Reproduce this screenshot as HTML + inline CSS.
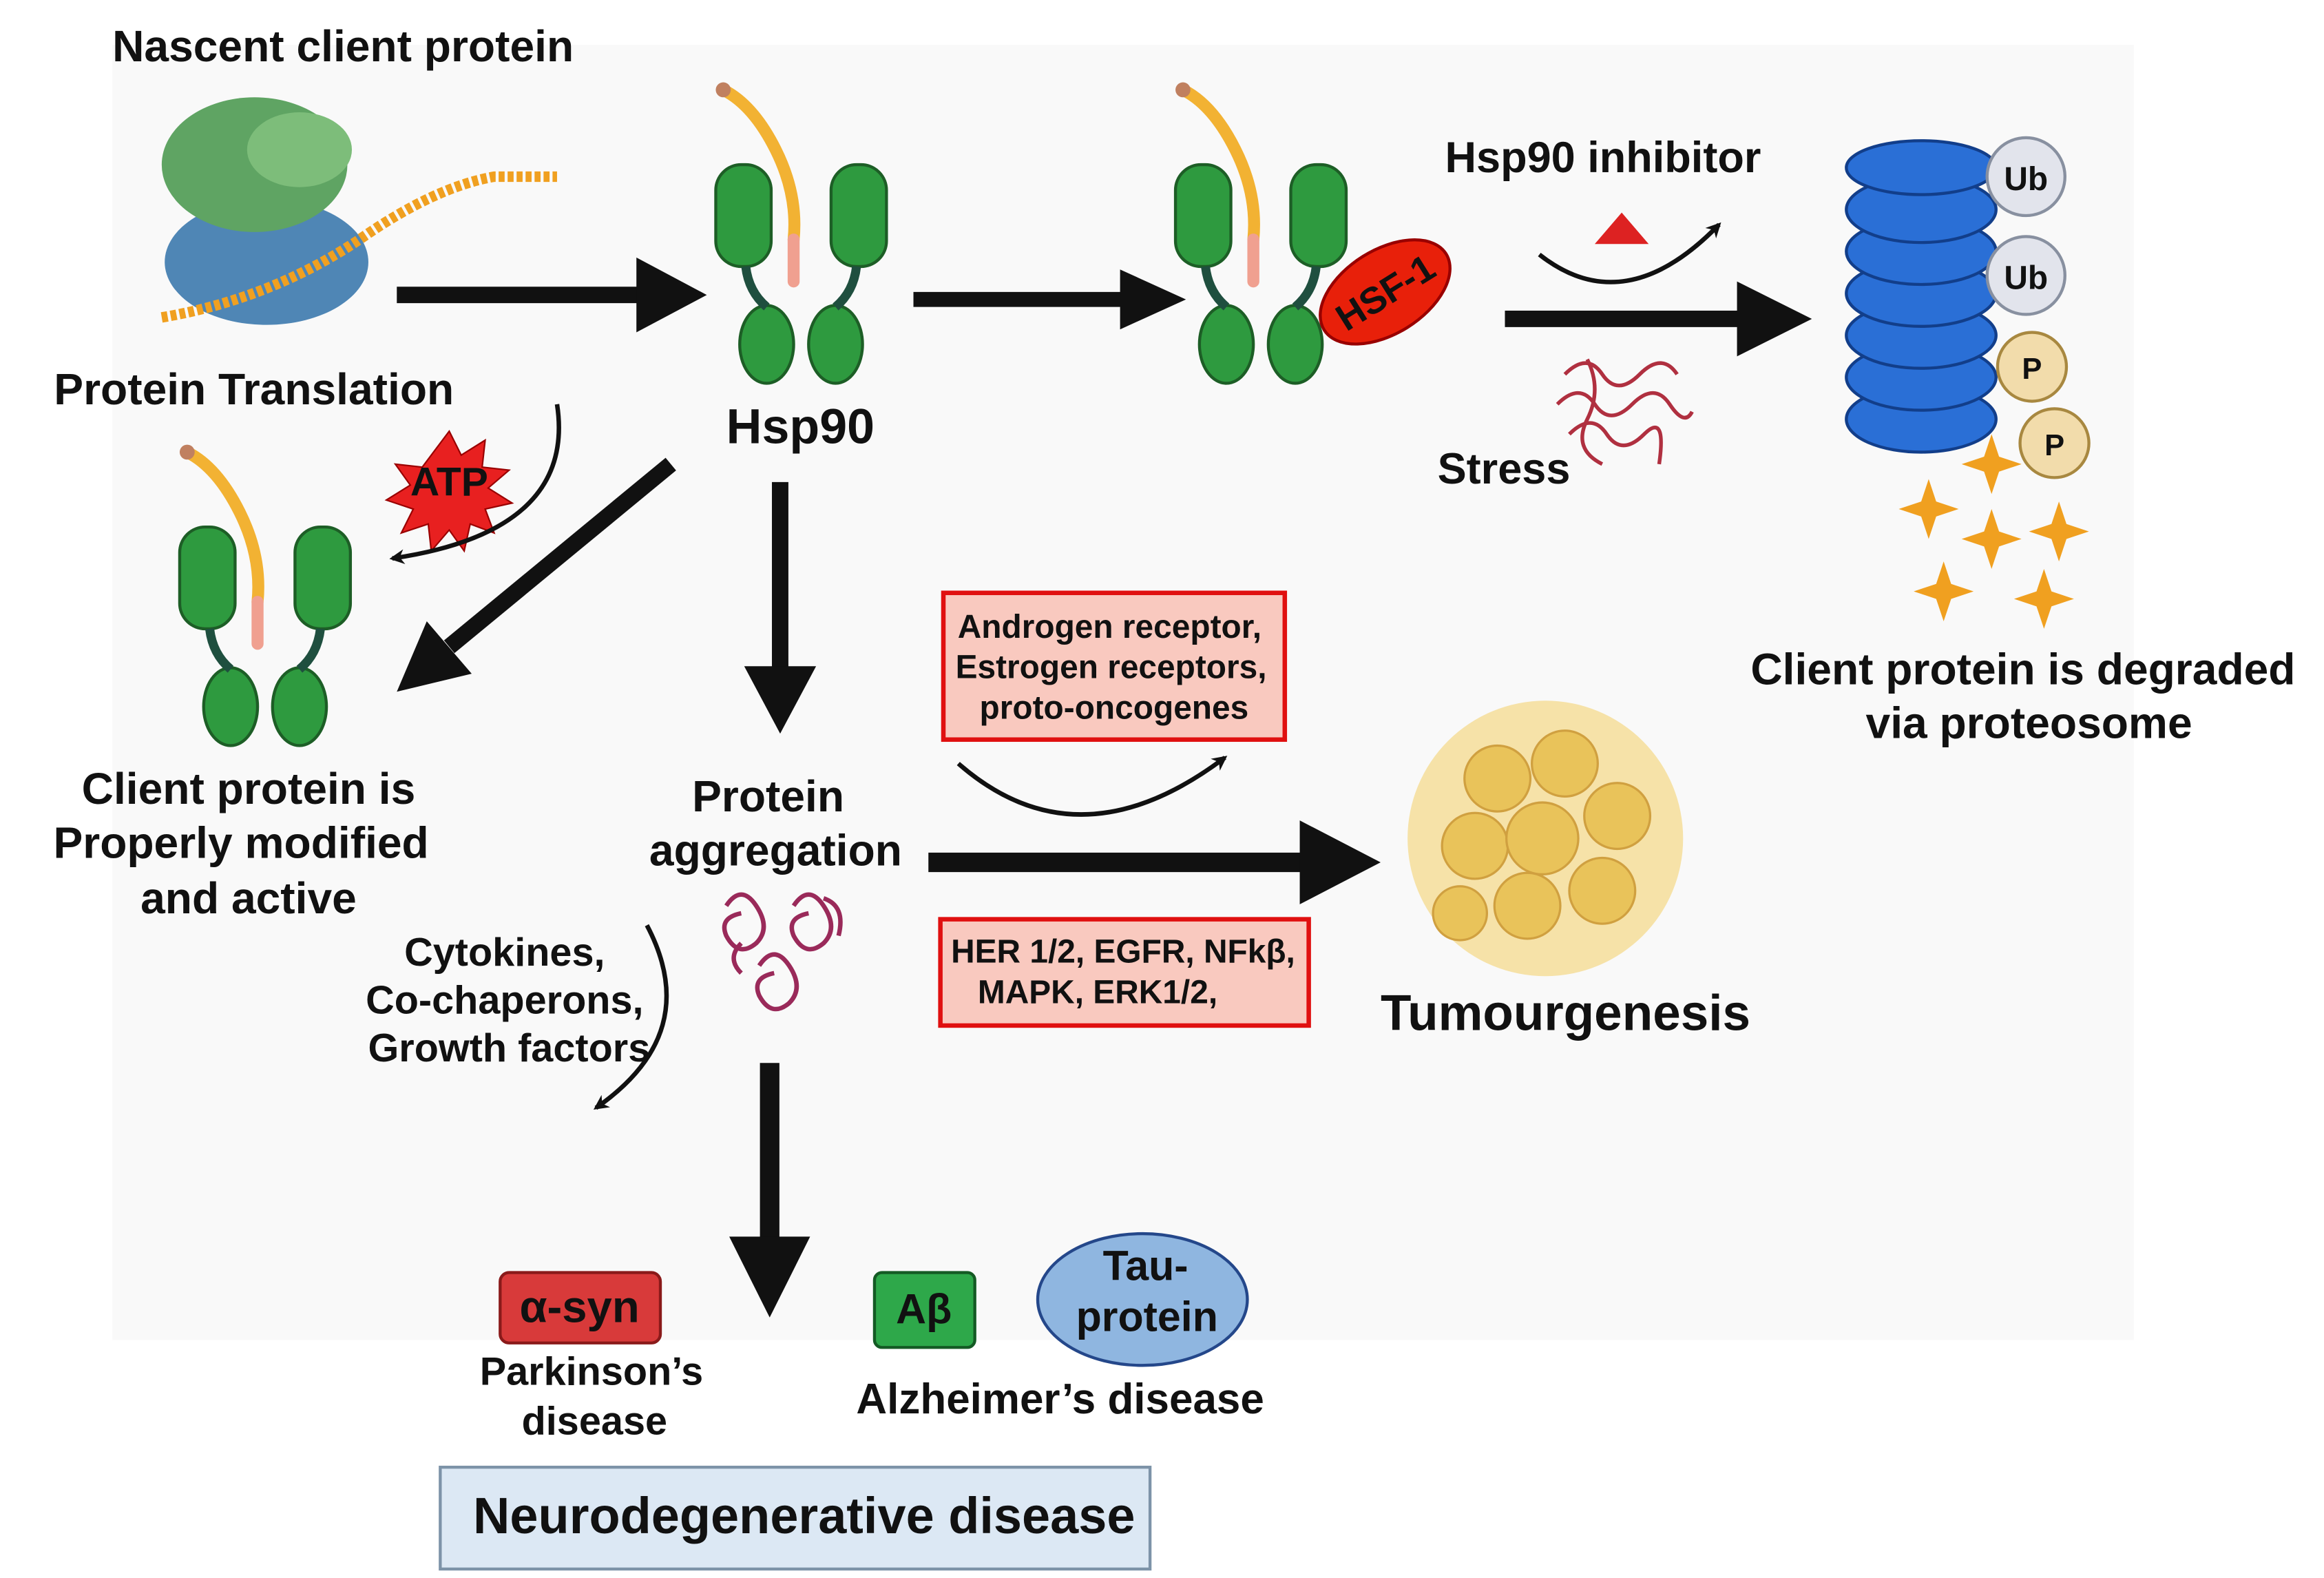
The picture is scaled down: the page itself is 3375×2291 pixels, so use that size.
<!DOCTYPE html>
<html><head><meta charset="utf-8"><style>
html,body{margin:0;padding:0;background:#fff;}
svg{display:block;}
text{font-family:"Liberation Sans",Arial,sans-serif;font-weight:bold;fill:#111;}
</style></head><body>
<svg width="3375" height="2291" viewBox="0 0 1552 1054" preserveAspectRatio="none" xmlns="http://www.w3.org/2000/svg">
<defs>
<marker id="sh" markerWidth="10" markerHeight="10" refX="8" refY="5" orient="auto" markerUnits="userSpaceOnUse"><path d="M0,0 L10,5 L0,10 L3,5 Z" fill="#111"/></marker>
<g id="dimer">
 <rect x="0" y="0" width="37" height="68" rx="17" fill="#2e9a3f" stroke="#1d5e26" stroke-width="2"/>
 <rect x="77" y="0" width="37" height="68" rx="17" fill="#2e9a3f" stroke="#1d5e26" stroke-width="2"/>
 <ellipse cx="34" cy="120" rx="18" ry="26" fill="#2e9a3f" stroke="#1d5e26" stroke-width="2"/>
 <ellipse cx="80" cy="120" rx="18" ry="26" fill="#2e9a3f" stroke="#1d5e26" stroke-width="2"/>
 <path d="M20,68 Q22,85 34,95 M94,68 Q92,85 80,95" stroke="#1f4f3f" stroke-width="6" fill="none"/>
 <path d="M5,-50 Q25,-40 40,-10 Q55,20 52,50" stroke="#f2b233" stroke-width="8" fill="none" stroke-linecap="round"/>
 <path d="M52,50 L52,78" stroke="#f0a090" stroke-width="8" stroke-linecap="round"/>
 <circle cx="5" cy="-50" r="5" fill="#c08060"/>
</g>
</defs>
<rect x="75" y="30" width="1350" height="865" fill="#f9f9f9"/>

<text x="75" y="41" font-size="29.5">Nascent client protein</text>
<ellipse cx="178" cy="175" rx="68" ry="42" fill="#4f86b5"/>
<ellipse cx="170" cy="110" rx="62" ry="45" fill="#5fa463"/>
<ellipse cx="200" cy="100" rx="35" ry="25" fill="#7dbd7a"/>
<path d="M108,212 Q180,200 240,160 Q290,125 330,118 L372,118" stroke="#f0a020" stroke-width="7" fill="none" stroke-dasharray="4 2"/>
<text x="36" y="270" font-size="29.5">Protein Translation</text>

<line x1="265" y1="197" x2="440" y2="197" stroke="#111" stroke-width="11"/>
<path d="M425,172 L472,197 L425,222 Z" fill="#111"/>

<use href="#dimer" x="478" y="110"/>
<text x="485" y="296" font-size="33">Hsp90</text>

<line x1="610" y1="200" x2="760" y2="200" stroke="#111" stroke-width="10"/>
<path d="M748,180 L792,200 L748,220 Z" fill="#111"/>

<use href="#dimer" x="785" y="110"/>
<g transform="translate(925,195) rotate(-32)"><ellipse rx="48" ry="28" fill="#e8200a" stroke="#900" stroke-width="2"/><text x="0" y="9" font-size="25" text-anchor="middle" fill="#111">HSF-1</text></g>

<text x="965" y="115" font-size="29">Hsp90 inhibitor</text>
<path d="M1065,163 L1083,142 L1101,163 Z" fill="#d22"/>
<path d="M1028,170 Q1085,215 1148,150" stroke="#111" stroke-width="3" fill="none" marker-end="url(#sh)"/>
<line x1="1005" y1="213" x2="1170" y2="213" stroke="#111" stroke-width="11"/>
<path d="M1160,188 L1210,213 L1160,238 Z" fill="#111"/>
<g stroke="#b03040" stroke-width="2.5" fill="none">
<path d="M1045,250 q15,-15 25,0 t25,0 t25,0"/><path d="M1040,270 q15,-15 25,0 t25,0 t25,0 t15,5"/><path d="M1048,290 q15,-15 25,0 t25,0 t10,20"/><path d="M1060,240 q10,20 0,40 t10,30"/>
</g>
<text x="960" y="323" font-size="29">Stress</text>

<g fill="#2a6fd6" stroke="#123e8a" stroke-width="2">
<ellipse cx="1283" cy="280" rx="50" ry="22"/><ellipse cx="1283" cy="252" rx="50" ry="22"/><ellipse cx="1283" cy="224" rx="50" ry="22"/><ellipse cx="1283" cy="196" rx="50" ry="22"/><ellipse cx="1283" cy="168" rx="50" ry="22"/><ellipse cx="1283" cy="140" rx="50" ry="22"/><ellipse cx="1283" cy="112" rx="50" ry="18"/>
</g>
<g stroke="#8890a0" stroke-width="2" fill="#e2e4ec"><circle cx="1353" cy="118" r="26"/><circle cx="1353" cy="184" r="26"/></g>
<text x="1353" y="127" font-size="22" text-anchor="middle" fill="#666">Ub</text>
<text x="1353" y="193" font-size="22" text-anchor="middle" fill="#666">Ub</text>
<g stroke="#a88840" stroke-width="2" fill="#f2dcab"><circle cx="1357" cy="245" r="23"/><circle cx="1372" cy="296" r="23"/></g>
<text x="1357" y="253" font-size="20" text-anchor="middle" fill="#444">P</text>
<text x="1372" y="304" font-size="20" text-anchor="middle" fill="#444">P</text>
<g fill="#f0a020">
<path d="M1330,290 l5,15 15,5 -15,5 -5,15 -5,-15 -15,-5 15,-5z"/>
<path d="M1288,320 l5,15 15,5 -15,5 -5,15 -5,-15 -15,-5 15,-5z"/>
<path d="M1330,340 l5,15 15,5 -15,5 -5,15 -5,-15 -15,-5 15,-5z"/>
<path d="M1375,335 l5,15 15,5 -15,5 -5,15 -5,-15 -15,-5 15,-5z"/>
<path d="M1298,375 l5,15 15,5 -15,5 -5,15 -5,-15 -15,-5 15,-5z"/>
<path d="M1365,380 l5,15 15,5 -15,5 -5,15 -5,-15 -15,-5 15,-5z"/>
</g>
<text x="1351" y="457" font-size="29.5" text-anchor="middle">Client protein is degraded</text>
<text x="1355" y="493" font-size="29.5" text-anchor="middle">via proteosome</text>

<path d="M300,288 l8,16 16,-10 -2,18 18,2 -14,12 16,10 -18,4 6,16 -16,-6 -4,18 -10,-14 -12,14 -2,-18 -18,6 8,-16 -18,-6 16,-10 -10,-14 18,2z" fill="#e82020" stroke="#900" stroke-width="1"/>
<text x="300" y="331" font-size="27" text-anchor="middle">ATP</text>
<path d="M372,270 Q385,355 262,373" stroke="#111" stroke-width="3" fill="none" marker-end="url(#sh)"/>

<use href="#dimer" x="120" y="352"/>
<line x1="448" y1="310" x2="300" y2="432" stroke="#111" stroke-width="11"/>
<path d="M285,415 L265,462 L315,450 Z" fill="#111"/>
<text x="166" y="537" font-size="29.5" text-anchor="middle">Client protein is</text>
<text x="161" y="573" font-size="29.5" text-anchor="middle">Properly modified</text>
<text x="166" y="610" font-size="29.5" text-anchor="middle">and active</text>

<line x1="521" y1="322" x2="521" y2="455" stroke="#111" stroke-width="11"/>
<path d="M497,445 L521,490 L545,445 Z" fill="#111"/>
<text x="513" y="542" font-size="29.5" text-anchor="middle">Protein</text>
<text x="518" y="578" font-size="29.5" text-anchor="middle">aggregation</text>

<rect x="630" y="396" width="228" height="98" fill="#f9c9bf" stroke="#e01010" stroke-width="3"/>
<text x="741" y="426" font-size="22" text-anchor="middle" fill="#5a0a0a">Androgen receptor,</text>
<text x="742" y="453" font-size="22" text-anchor="middle" fill="#5a0a0a">Estrogen receptors,</text>
<text x="744" y="480" font-size="22" text-anchor="middle" fill="#5a0a0a">proto-oncogenes</text>
<path d="M640,510 Q720,580 818,506" stroke="#111" stroke-width="3" fill="none" marker-end="url(#sh)"/>

<line x1="620" y1="576" x2="880" y2="576" stroke="#111" stroke-width="13"/>
<path d="M868,548 L922,576 L868,604 Z" fill="#111"/>

<rect x="628" y="614" width="246" height="71" fill="#f9c9bf" stroke="#e01010" stroke-width="3"/>
<text x="750" y="643" font-size="22" text-anchor="middle" fill="#5a0a0a">HER 1/2, EGFR, NFkβ,</text>
<text x="733" y="670" font-size="22" text-anchor="middle" fill="#5a0a0a">MAPK, ERK1/2,</text>

<circle cx="1032" cy="560" r="92" fill="#f6e2a8"/>
<g fill="#e9c35a" stroke="#d0a040" stroke-width="1.5">
<circle cx="1000" cy="520" r="22"/><circle cx="1045" cy="510" r="22"/><circle cx="1080" cy="545" r="22"/><circle cx="985" cy="565" r="22"/><circle cx="1030" cy="560" r="24"/><circle cx="1070" cy="595" r="22"/><circle cx="1020" cy="605" r="22"/><circle cx="975" cy="610" r="18"/>
</g>
<text x="922" y="688" font-size="33.5">Tumourgenesis</text>

<text x="337" y="645" font-size="26.5" text-anchor="middle">Cytokines,</text>
<text x="337" y="677" font-size="26.5" text-anchor="middle">Co-chaperons,</text>
<text x="340" y="709" font-size="26.5" text-anchor="middle">Growth factors</text>
<path d="M432,618 Q470,690 398,740" stroke="#111" stroke-width="3" fill="none" marker-end="url(#sh)"/>

<g stroke="#9a2a5a" stroke-width="3" fill="none">
<path d="M485,605 q10,-15 20,0 q10,15 0,25 q-12,10 -20,-5 q-5,-12 10,-15"/>
<path d="M530,605 q10,-15 20,0 q10,15 0,25 q-12,10 -20,-5 q-5,-12 10,-15"/>
<path d="M507,645 q10,-15 20,0 q10,15 0,25 q-12,10 -20,-5 q-5,-12 10,-15"/>
<path d="M550,600 q15,5 10,25 M495,630 q-10,10 0,20"/>
</g>

<line x1="514" y1="710" x2="514" y2="835" stroke="#111" stroke-width="13"/>
<path d="M487,826 L514,880 L541,826 Z" fill="#111"/>

<rect x="334" y="850" width="107" height="47" rx="6" fill="#d83a3a" stroke="#8a1a1a" stroke-width="2"/>
<text x="387" y="883" font-size="30" text-anchor="middle" fill="#1a1a2a">α-syn</text>
<text x="395" y="925" font-size="26.5" text-anchor="middle">Parkinson’s</text>
<text x="397" y="958" font-size="26.5" text-anchor="middle">disease</text>

<rect x="584" y="850" width="67" height="50" rx="5" fill="#2ea84a" stroke="#145a24" stroke-width="2"/>
<text x="617" y="884" font-size="28" text-anchor="middle">Aβ</text>
<ellipse cx="763" cy="868" rx="70" ry="44" fill="#8fb6e0" stroke="#24478a" stroke-width="2"/>
<text x="765" y="855" font-size="28" text-anchor="middle">Tau-</text>
<text x="766" y="889" font-size="28" text-anchor="middle">protein</text>
<text x="708" y="944" font-size="28.5" text-anchor="middle">Alzheimer’s disease</text>

<rect x="294" y="980" width="474" height="68" fill="#dce8f4" stroke="#7d93a8" stroke-width="2"/>
<text x="537" y="1024" font-size="34" text-anchor="middle" fill="#2a2f3a">Neurodegenerative disease</text>
</svg>
</body></html>
